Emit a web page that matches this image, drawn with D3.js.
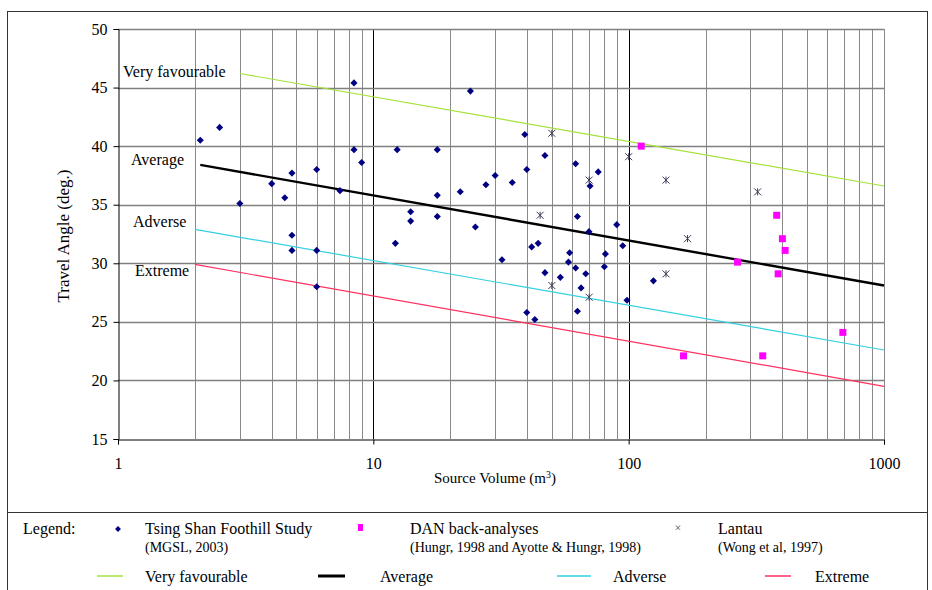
<!DOCTYPE html>
<html><head><meta charset="utf-8">
<script src="https://cdn.jsdelivr.net/npm/d3@7"></script>
<style>body{margin:0;background:#fff}svg{display:block}text{font-family:"Liberation Serif","Times New Roman",serif;fill:#000}</style>
</head><body><svg id="c" width="932" height="590"></svg>
<script>
// ---- data ----
const tsingShanVol = [2.1,2.5,3.0,4.0,4.5,4.8,4.8,4.8,6.0,6.0,6.0,7.4,8.4,8.4,9.0,12.2,12.4,14.0,14.0,17.8,17.8,17.8,21.9,24.0,25.1,27.6,30.0,31.9,35.0,39.2,39.9,39.9,41.7,42.9,44.2,47.0,47.0,54.0,58.1,58.7,62.0,62.0,63.0,63.0,65.1,67.9,69.9,70.6,76.0,80.3,81.1,89.8,94.8,98.5,125];
const tsingShanAngle = [40.5,41.6,35.1,36.8,35.6,37.7,32.4,31.1,38.0,31.1,28.0,36.2,45.4,39.7,38.6,31.7,39.7,34.4,33.6,39.7,35.8,34.0,36.1,44.7,33.1,36.7,37.5,30.3,36.9,41.0,38.0,25.8,31.4,25.2,31.7,39.2,29.2,28.8,30.1,30.9,38.5,29.6,34.0,25.9,27.9,29.1,32.7,36.6,37.8,29.7,30.8,33.3,31.5,26.85,28.5];
const danVol = [112,164,267,335,380,385,400,410,690];
const danAngle = [40.0,22.1,30.1,22.1,34.1,29.1,32.1,31.1,24.1];
const lantauVol = [45,50,50,70,70,100,140,140,170,320];
const lantauAngle = [34.1,41.1,28.1,37.1,27.1,39.1,37.1,29.1,32.1,36.1];
const veryFavVol = [3,1000],   veryFavAngle = [46.2,36.6];
const averageVol = [2.1,1000], averageAngle = [38.4,28.1];
const adverseVol = [2,1000],   adverseAngle = [32.9,22.6];
const extremeVol = [2,1000],   extremeAngle = [29.9,19.5];
const yTicks = [15,20,25,30,35,40,45,50];
const xTicks = [1,10,100,1000];
const lineNames = ["Very favourable","Average","Adverse","Extreme"];

// ---- chart ----
const svg = d3.select("#c");
const L=118,R=884,T=29,B=439;
const x = d3.scaleLog().domain([1,1000]).range([L,R]);
const y = d3.scaleLinear().domain([15,50]).range([B,T]);

// outer frame
svg.append("rect").attr("x",7.5).attr("y",11.5).attr("width",920).attr("height",600)
  .attr("fill","none").attr("stroke","#333").attr("stroke-width",1);
svg.append("line").attr("x1",7.5).attr("x2",927.5).attr("y1",512.5).attr("y2",512.5).attr("stroke","#333");

// grid
const minor = [];
for (let d=1; d<1000; d*=10) for (let k=2;k<=10;k++) minor.push(d*k);
svg.append("g").selectAll("line").data(minor).join("line")
  .attr("x1",d=>Math.round(x(d))+0.5).attr("x2",d=>Math.round(x(d))+0.5)
  .attr("y1",T).attr("y2",B)
  .attr("stroke",d=>(d===10||d===100)?"#000":"#8a8a8a").attr("stroke-width",1);
svg.append("g").selectAll("line").data(yTicks.slice(1)).join("line")
  .attr("x1",L).attr("x2",R).attr("y1",d=>Math.round(y(d))+0.5).attr("y2",d=>Math.round(y(d))+0.5)
  .attr("stroke","#808080").attr("stroke-width",1.4);

// axes
const yAxis = svg.append("g").attr("transform",`translate(${L+0.5},0)`)
  .call(d3.axisLeft(y).tickValues(yTicks).tickSize(5).tickPadding(6).tickFormat(d3.format("d")));
yAxis.select(".domain").attr("stroke","#000");
yAxis.selectAll("text").style("font-size","16px").style("font-family",'"Liberation Serif",serif');
const xAxis = svg.append("g").attr("transform",`translate(0,${B+0.5})`)
  .call(d3.axisBottom(x).tickValues(xTicks).tickSize(5).tickPadding(13).tickFormat(d3.format("d")));
xAxis.selectAll("text").style("font-size","16px").style("font-family",'"Liberation Serif",serif');

// titles
svg.append("text").attr("x",495).attr("y",483).attr("text-anchor","middle").style("font-size","15px")
  .html('Source Volume (m<tspan dy="-5" font-size="10">3</tspan><tspan dy="5">)</tspan>');
svg.append("text").attr("transform","translate(69,236) rotate(-90)").attr("text-anchor","middle")
  .style("font-size","17px").text("Travel Angle (deg.)");

// reference lines
const lineGen = d3.line().x(d=>x(d[0])).y(d=>y(d[1]));
const refLines = [
  {vol:veryFavVol, ang:veryFavAngle, color:"#a5e23a", w:1.2},
  {vol:averageVol, ang:averageAngle, color:"#000", w:2.4},
  {vol:adverseVol, ang:adverseAngle, color:"#33d0e0", w:1.2},
  {vol:extremeVol, ang:extremeAngle, color:"#ff3060", w:1.2}
];
refLines.forEach(s=>{
  svg.append("path").datum(d3.zip(s.vol,s.ang)).attr("d",lineGen)
    .attr("fill","none").attr("stroke",s.color).attr("stroke-width",s.w);
});

// line labels
const lblPos = [[123,77],[131,165],[133,227],[135,276]];
lineNames.forEach((n,i)=>svg.append("text").attr("x",lblPos[i][0]).attr("y",lblPos[i][1]).style("font-size","16px").text(n));

// markers
const diamond = d3.symbol().type(d3.symbolDiamond2).size(32);
svg.append("g").selectAll("path").data(d3.zip(tsingShanVol,tsingShanAngle)).join("path")
  .attr("transform",d=>`translate(${x(d[0])},${y(d[1])})`).attr("d",diamond).attr("fill","#000080");
svg.append("g").selectAll("rect").data(d3.zip(danVol,danAngle)).join("rect")
  .attr("x",d=>x(d[0])-3.5).attr("y",d=>y(d[1])-3.5).attr("width",7).attr("height",7).attr("fill","#ff00ff");
function star(g,cx,cy,r){
  g.append("path").attr("d",`M${cx-r},${cy-r}L${cx+r},${cy+r}M${cx-r},${cy+r}L${cx+r},${cy-r}M${cx},${cy-r}L${cx},${cy+r}`)
   .attr("stroke","#3c3c5a").attr("stroke-width",1).attr("fill","none");
}
const lg = svg.append("g");
d3.zip(lantauVol,lantauAngle).forEach(d=>star(lg,x(d[0]),y(d[1]),3.5));

// legend
const leg = svg.append("g");
leg.append("text").attr("x",23).attr("y",534).style("font-size","16px").text("Legend:");
leg.append("path").attr("transform","translate(118,529)").attr("d",d3.symbol().type(d3.symbolDiamond2).size(22)).attr("fill","#000080");
leg.append("rect").attr("x",358).attr("y",524).attr("width",5).attr("height",7).attr("fill","#ff00ff");
leg.append("text").attr("x",678).attr("y",532).attr("text-anchor","middle").style("font-size","12px").style("fill","#555").text("×");
const legItems = [
  [145,"Tsing Shan Foothill Study","(MGSL, 2003)"],
  [410,"DAN back-analyses","(Hungr, 1998 and Ayotte & Hungr, 1998)"],
  [718,"Lantau","(Wong et al, 1997)"]
];
legItems.forEach(([lx,a,b])=>{
  leg.append("text").attr("x",lx).attr("y",534).style("font-size","16px").text(a);
  leg.append("text").attr("x",lx).attr("y",552).style("font-size","14px").text(b);
});
const leg2 = [[97,123,145],[318,345,380],[557,591,613],[765,791,815]];
refLines.forEach((s,i)=>{
  const [a,b,t]=leg2[i];
  leg.append("line").attr("x1",a).attr("x2",b).attr("y1",576).attr("y2",576)
    .attr("stroke",s.color).attr("stroke-width",i===1?3:1.5);
  leg.append("text").attr("x",t).attr("y",582).style("font-size","16px").text(lineNames[i]);
});
</script></body></html>
